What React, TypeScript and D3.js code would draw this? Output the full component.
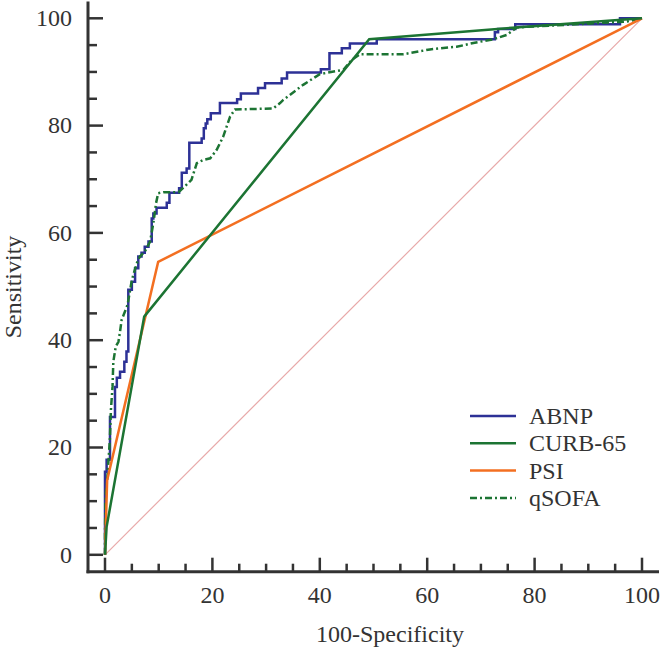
import React from "react";
import * as d3 from "d3";

const xTickValues = [0, 20, 40, 60, 80, 100];
const yTickValues = [0, 20, 40, 60, 80, 100];
const minorTicks = d3.range(0, 101, 5);

const seriesNames = ["ABNP", "CURB-65", "PSI", "qSOFA"];

// ABNP: stepped ROC (x of vertical segment, top y)
const abnp: [number, number][] = [
  [0, 0], [0, 15.5], [0.3, 17.7], [0.93, 25.7], [1.86, 31.3], [2.2, 33], [2.8, 34.1],
  [3.6, 36], [4.0, 37.9], [4.34, 49.4], [5.0, 50.9], [5.6, 53.4], [6.2, 55.6], [6.8, 56.3],
  [7.4, 57.4], [8.1, 58.4], [8.7, 62.7], [9.0, 63.6], [9.6, 64.7], [11.5, 65.6], [12.0, 67.5],
  [13.8, 68.3], [14.3, 71.2], [15.2, 72.0], [15.7, 76.8], [18.0, 77.6], [18.4, 79.5],
  [18.75, 80.4], [19.05, 81.2], [19.7, 82.3], [21.4, 84.2], [24.6, 84.9], [25.3, 86.0],
  [28.5, 87.0], [29.8, 87.9], [32.9, 88.8], [33.9, 89.9], [40.2, 90.5], [41.8, 93.5],
  [44.1, 94.4], [45.6, 95.3], [50.6, 96.1], [72.6, 97.4], [73.2, 98.0], [76.4, 98.9],
  [95.9, 100], [100, 100],
];

const curb65: [number, number][] = [
  [0, 0], [0.3, 5.2], [7.3, 44.4], [49.2, 96.1], [76.5, 98.3], [100, 100],
];

const psi: [number, number][] = [
  [0, 0], [0.4, 13.9], [9.9, 54.6], [100, 100],
];

const qsofa: [number, number][] = [
  [0, 0], [0, 4], [0.1, 10.8], [0.5, 15.2], [0.9, 21.4], [1.1, 27], [1.4, 31.3], [1.55, 36],
  [2.0, 38.8], [2.5, 39.7], [2.8, 41.6], [3.1, 43.8], [3.7, 45.3], [4.2, 46.6], [5.0, 51.2],
  [5.9, 54.3], [6.5, 55.6], [7.4, 56.5], [8.4, 58.4], [9.0, 61.8], [9.5, 65.5], [9.9, 67.4],
  [10.9, 67.6], [13.7, 67.6], [14.9, 68.7], [16.1, 69.9], [17.1, 73.0], [18.3, 73.6],
  [19.6, 73.9], [20.8, 75.5], [22.0, 77.9], [23.3, 81.7], [24.2, 83.0], [31.3, 83.2],
  [32.6, 84.2], [33.2, 84.8], [36.9, 87.6], [40.0, 89.6], [44.4, 90.4], [45.9, 92.2],
  [47.5, 93.3], [55.6, 93.3], [60.5, 94.2], [65.5, 94.7], [68.6, 95.4], [72.3, 96.1],
  [74.8, 96.9], [76.7, 98.3], [97.2, 99.4], [100, 100],
];

const colors = {
  abnp: "#2d3196",
  curb: "#1c7433",
  psi: "#f36f21",
  diag: "#e8a9a9",
  axis: "#333333",
};

const FONT = "'Liberation Serif', 'Times New Roman', serif";

export default function App() {
  const x = d3.scaleLinear().domain([0, 100]).range([105, 642]);
  const y = d3.scaleLinear().domain([0, 100]).range([554.8, 18.3]);

  const linear = d3
    .line<[number, number]>()
    .x((d) => x(d[0]))
    .y((d) => y(d[1]));
  const stepped = d3
    .line<[number, number]>()
    .x((d) => x(d[0]))
    .y((d) => y(d[1]))
    .curve(d3.curveStepAfter);

  const axisX = 88;
  const axisY = 571.7;

  const legendItems = [
    { name: seriesNames[0], color: colors.abnp, dash: undefined },
    { name: seriesNames[1], color: colors.curb, dash: undefined },
    { name: seriesNames[2], color: colors.psi, dash: undefined },
    { name: seriesNames[3], color: colors.curb, dash: "7,3,2,3" },
  ];

  return (
    <svg
      width={662}
      height={648}
      style={{ position: "absolute", left: 0, top: 0, background: "#fff" }}
      fontFamily={FONT}
    >
      <rect x={0} y={0} width={662} height={648} fill="#fff" />
      {/* diagonal */}
      <line
        x1={x(0)}
        y1={y(0)}
        x2={x(100)}
        y2={y(100)}
        stroke={colors.diag}
        strokeWidth={1.2}
      />
      <path d={stepped(abnp) || ""} fill="none" stroke={colors.abnp} strokeWidth={2.5} />
      <path
        d={linear(qsofa) || ""}
        fill="none"
        stroke={colors.curb}
        strokeWidth={2.5}
        strokeDasharray="7,3,2,3"
      />
      <path d={linear(psi) || ""} fill="none" stroke={colors.psi} strokeWidth={2.5} />
      <path d={linear(curb65) || ""} fill="none" stroke={colors.curb} strokeWidth={2.5} />

      {/* axes */}
      <line x1={axisX} y1={1.5} x2={axisX} y2={axisY + 1.5} stroke={colors.axis} strokeWidth={3} />
      <line x1={axisX - 1.5} y1={axisY} x2={659} y2={axisY} stroke={colors.axis} strokeWidth={3} />
      {minorTicks.map((v) => {
        const major = v % 20 === 0;
        return (
          <g key={"t" + v}>
            <line
              x1={axisX}
              x2={axisX + (major ? 15 : 9)}
              y1={y(v)}
              y2={y(v)}
              stroke={colors.axis}
              strokeWidth={2.5}
            />
            <line
              x1={x(v)}
              x2={x(v)}
              y1={axisY}
              y2={axisY - (major ? 14 : 8)}
              stroke={colors.axis}
              strokeWidth={2.5}
            />
          </g>
        );
      })}
      {yTickValues.map((v) => (
        <text
          key={"yl" + v}
          x={72}
          y={y(v) + 7.7}
          textAnchor="end"
          fontSize={24}
          fill="#333"
        >
          {v}
        </text>
      ))}
      {xTickValues.map((v) => (
        <text
          key={"xl" + v}
          x={x(v)}
          y={602.5}
          textAnchor="middle"
          fontSize={24}
          fill="#333"
        >
          {v}
        </text>
      ))}
      <text x={390} y={642} textAnchor="middle" fontSize={24} fill="#333">
        100-Specificity
      </text>
      <text
        transform="translate(21,287) rotate(-90)"
        textAnchor="middle"
        fontSize={24}
        fill="#333"
      >
        Sensitivity
      </text>

      {/* legend */}
      {legendItems.map((item, i) => {
        const ly = 416 + i * 27.3;
        return (
          <g key={item.name}>
            <line
              x1={470}
              x2={516}
              y1={ly}
              y2={ly}
              stroke={item.color}
              strokeWidth={2.5}
              strokeDasharray={item.dash}
            />
            <text x={529} y={ly + 8} fontSize={24} fill="#333">
              {item.name}
            </text>
          </g>
        );
      })}
    </svg>
  );
}
